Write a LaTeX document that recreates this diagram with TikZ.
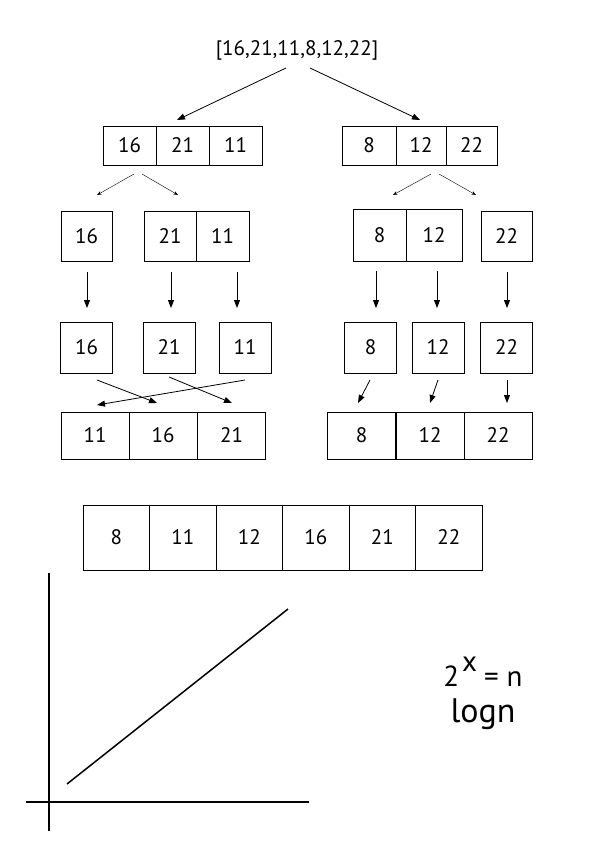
\documentclass[tikz,border=0pt]{standalone}
\usepackage{fontspec}
\setmainfont{PT Sans}
\usetikzlibrary{arrows.meta, calc}

\begin{document}
\begin{tikzpicture}[x=1pt, y=-1pt,
    cell/.style={draw, line width=0.9pt, inner sep=0pt, font=\fontsize{21}{25}\selectfont},
    arr/.style={-{Triangle[length=8pt,width=6pt]}, line width=0.8pt},
    thinarr/.style={-{Stealth[length=4.5pt,width=3.5pt]}, line width=0.4pt}]
    \useasboundingbox (0,0) rectangle (595,842);
    % Whole list
    \node[font=\fontsize{21}{25}\selectfont] (List) at (297,50) {[16,21,11,8,12,22]};
    % First split
    \foreach \name/\x/\w/\i in {16/129.5/53/1,21/182.5/53/2,11/235.5/53/3} {
        \node[cell, minimum width=\w pt, minimum height=39pt] (SplitL-\i) at (\x,145.5) {\name};
    }
    \foreach \name/\x/\w/\i in {8/369/54/1,12/421/50/2,22/471.5/51/3} {
        \node[cell, minimum width=\w pt, minimum height=39pt] (SplitR-\i) at (\x,145.5) {\name};
    }
    % Second split
    \foreach \name/\x/\w/\i in {16/86.5/51/1,21/170/52/2,11/222.5/53/3} {
        \node[cell, minimum width=\w pt, minimum height=50pt] (HalfL-\i) at (\x,236) {\name};
    }
    \foreach \name/\x/\w/\i in {8/379.5/53/1,12/434/56/2} {
        \node[cell, minimum width=\w pt, minimum height=52pt] (HalfR-\i) at (\x,235) {\name};
    }
    \node[cell, minimum width=51pt, minimum height=50pt] (HalfR-3) at (506.5,236) {22};
    % Single elements
    \foreach \name/\x/\i in {16/86.5/1,21/169/2,11/245/3} {
        \node[cell, minimum width=52pt, minimum height=51pt] (LeafL-\i) at (\x,347.5) {\name};
    }
    \foreach \name/\x/\i in {8/370.5/1,12/438/2,22/506.5/3} {
        \node[cell, minimum width=52pt, minimum height=51pt] (LeafR-\i) at (\x,347.5) {\name};
    }
    % Merged halves
    \foreach \name/\x/\i in {11/95/1,16/163/2,21/231.5/3} {
        \node[cell, minimum width=68pt, minimum height=47pt] (MergeL-\i) at (\x,435.5) {\name};
    }
    \foreach \name/\x/\i in {8/361.5/1,12/430/2,22/498/3} {
        \node[cell, minimum width=68pt, minimum height=47pt] (MergeR-\i) at (\x,435.5) {\name};
    }
    % Sorted list
    \foreach \name/\i in {8/0,11/1,12/2,16/3,21/4,22/5} {
        \node[cell, minimum width=66.5pt, minimum height=65pt] (Sorted-\i) at (116.25+66.5*\i,537.5) {\name};
    }
    % Arrows
    \draw[arr] ($(List)+(-11,18)$) -- ($(SplitL-2)+(-5.5,-25.5)$);
    \draw[arr] ($(List)+(13,18)$) -- ($(SplitR-2)+(-1,-25.5)$);
    \draw[thinarr] ($(SplitL-1)+(4.5,28.5)$) -- ($(HalfL-1)+(10.5,-41)$);
    \draw[thinarr] ($(SplitL-1)+(12.5,28.5)$) -- ($(HalfL-2)+(8,-41)$);
    \draw[thinarr] ($(SplitR-2)+(10,28.5)$) -- ($(HalfR-1)+(13.5,-40)$);
    \draw[thinarr] ($(SplitR-2)+(18,28.5)$) -- ($(HalfR-3)+(-30.5,-41)$);
    \foreach \a/\da/\b/\db in {HalfL-1/0.5/LeafL-1/0.5,HalfL-2/1/LeafL-2/2,HalfL-3/14.5/LeafL-3/-8,
                               HalfR-1/-3.5/LeafR-1/5.5,HalfR-2/3/LeafR-2/-1,HalfR-3/0.5/LeafR-3/0.5} {
        \draw[arr] ($(\a)+(\da,36)$) -- ($(\b)+(\db,-39.5)$);
    }
    \draw[arr] ($(LeafL-1)+(10.5,32.5)$) -- ($(MergeL-2)+(-6,-32.5)$);
    \draw[arr] ($(LeafL-2)+(0,29.5)$) -- ($(MergeL-3)+(0.5,-32.5)$);
    \draw[arr] ($(LeafL-3)+(0,32.5)$) -- ($(MergeL-1)+(2,-30.5)$);
    \draw[arr] ($(LeafR-1)+(-0.5,32.5)$) -- ($(MergeR-1)+(-3.5,-32.5)$);
    \draw[arr] ($(LeafR-2)+(0,32.5)$) -- ($(MergeR-2)+(0,-32.5)$);
    \draw[arr] ($(LeafR-3)+(0.5,32.5)$) -- ($(MergeR-3)+(9,-32.5)$);
    % Growth plot
    \draw[line width=1.8pt] (49,573) -- (49,831);
    \draw[line width=1.8pt] (26,802) -- (309,802);
    \draw[line width=1.5pt] (67,784) -- (288,609);
    \node[anchor=base, inner sep=0pt, font=\fontsize{29}{32}\selectfont] (Power) at (483,686) {2\kern3pt\raisebox{15pt}{x}\hspace{7pt}=\hspace{8pt}n};
    \node[anchor=base, inner sep=0pt, font=\fontsize{34}{38}\selectfont] (Log) at (483,722) {logn};
\end{tikzpicture}
\end{document}
